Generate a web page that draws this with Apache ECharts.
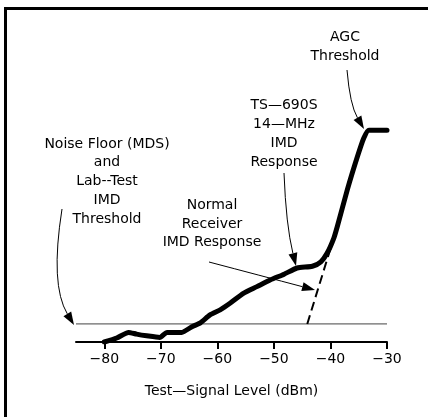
<!DOCTYPE html>
<html>
<head>
<meta charset="utf-8">
<style>
  html, body { margin: 0; padding: 0; background: #fff; }
  #chart { width: 428px; height: 417px; }
</style>
<script src="https://cdn.jsdelivr.net/npm/echarts@6/dist/echarts.min.js"></script>
</head>
<body>
<div id="chart"></div>
<script>
// test-signal level (dBm) and relative IMD output (dB above axis)
const levels = [-80, -77.8, -75.7, -74.3, -72.5, -70.2, -68.9, -66.3, -64.5, -63.0, -61.3, -59.5, -57.7, -55.4,
  -53.0, -50.6, -48.2, -45.9, -43.2, -41.7, -40.6, -39.4, -38.8, -37.0, -35.2, -34.1, -33.2, -30];
const tsResponse = [0, 0.7, 1.7, 1.4, 1.1, 0.8, 1.7, 1.7, 2.7, 3.4, 4.8, 5.7, 6.9, 8.6,
  9.8, 11.0, 12.0, 13.1, 13.4, 14.2, 15.7, 18.4, 20.4, 27.0, 32.9, 36.1, 37.5, 37.5];
const noiseFloor = [[-85, 3.2], [-30, 3.2]];
const normalImd = [[-44.1, 3.2], [-39.7, 17.5]];
const tickValues = [-80, -70, -60, -50, -40, -30];

const FONT = "DejaVu Sans";

(function () {
  const chart = echarts.init(document.getElementById("chart"));

  function arrow(from, ctrl, tip, width) {
    const dx = tip[0] - ctrl[0];
    const dy = tip[1] - ctrl[1];
    const len = Math.sqrt(dx * dx + dy * dy);
    const ux = dx / len, uy = dy / len;
    const hl = 13, hw = 4.5;
    const bx = tip[0] - ux * hl, by = tip[1] - uy * hl;
    return [
      {
        type: "bezierCurve",
        shape: { x1: from[0], y1: from[1], x2: bx, y2: by, cpx1: ctrl[0], cpy1: ctrl[1] },
        style: { stroke: "#000", lineWidth: width || 1, fill: null },
      },
      {
        type: "polygon",
        shape: { points: [tip, [bx - uy * hw, by + ux * hw], [bx + uy * hw, by - ux * hw]] },
        style: { fill: "#000" },
      },
    ];
  }

  function label(x, y, text, lh) {
    return {
      type: "text",
      x: x,
      y: y,
      style: {
        text: text,
        font: "14px " + FONT,
        fill: "#000",
        align: "center",
        verticalAlign: "top",
        lineHeight: lh,
      },
    };
  }

  const graphics = [
    // scanned page frame
    { type: "line", shape: { x1: 5.5, y1: 8, x2: 5.5, y2: 417 }, style: { stroke: "#000", lineWidth: 3 } },
    { type: "line", shape: { x1: 4, y1: 8.5, x2: 428, y2: 8.5 }, style: { stroke: "#000", lineWidth: 3 } },
    label(345, 28.5, "AGC\nThreshold", 18.5),
    label(284, 95.5, "TS—690S\n14—MHz\nIMD\nResponse", 19),
    label(107, 134.5, "Noise Floor (MDS)\nand\nLab--Test\nIMD\nThreshold", 18.75),
    label(212, 196.5, "Normal\nReceiver\nIMD Response", 18.5),
  ]
    .concat(arrow([347, 70], [350, 105], [364, 129]))
    .concat(arrow([284, 173], [286, 225], [296, 266]))
    .concat(arrow([62, 209], [50, 285], [74, 325]))
    .concat(arrow([209, 262], [262, 276], [315, 290]));

  const option = {
    animation: false,
    backgroundColor: "#fff",
    grid: { left: 76, right: 41, top: 116, bottom: 75 },
    xAxis: {
      type: "value",
      min: -85,
      max: -30,
      name: "Test—Signal Level (dBm)",
      nameLocation: "middle",
      nameGap: 42,
      nameTextStyle: { fontFamily: FONT, fontSize: 14, color: "#000" },
      axisLine: { lineStyle: { color: "#000", width: 2 } },
      axisTick: { length: 7, lineStyle: { color: "#000", width: 2 }, customValues: tickValues },
      axisLabel: {
        fontFamily: FONT,
        fontSize: 14,
        color: "#000",
        margin: 10,
        customValues: tickValues,
        formatter: function (v) {
          return String(v).replace("-", "\u2212");
        },
      },
      splitLine: { show: false },
    },
    yAxis: {
      type: "value",
      min: 0,
      max: 40,
      show: false,
    },
    series: [
      {
        name: "Noise floor",
        type: "line",
        data: noiseFloor,
        symbol: "none",
        lineStyle: { color: "#444", width: 1 },
      },
      {
        name: "Normal receiver IMD",
        type: "line",
        data: normalImd,
        symbol: "none",
        lineStyle: { color: "#000", width: 2, type: [9, 5] },
      },
      {
        name: "TS-690S",
        type: "line",
        data: levels.map(function (x, i) {
          return [x, tsResponse[i]];
        }),
        symbol: "none",
        smooth: 0.2,
        lineStyle: { color: "#000", width: 5, join: "round", cap: "round" },
      },
    ],
    graphic: graphics,
  };
  chart.setOption(option);

  window.addEventListener("resize", function () {
    chart.resize();
  });
})();
</script>
</body>
</html>
